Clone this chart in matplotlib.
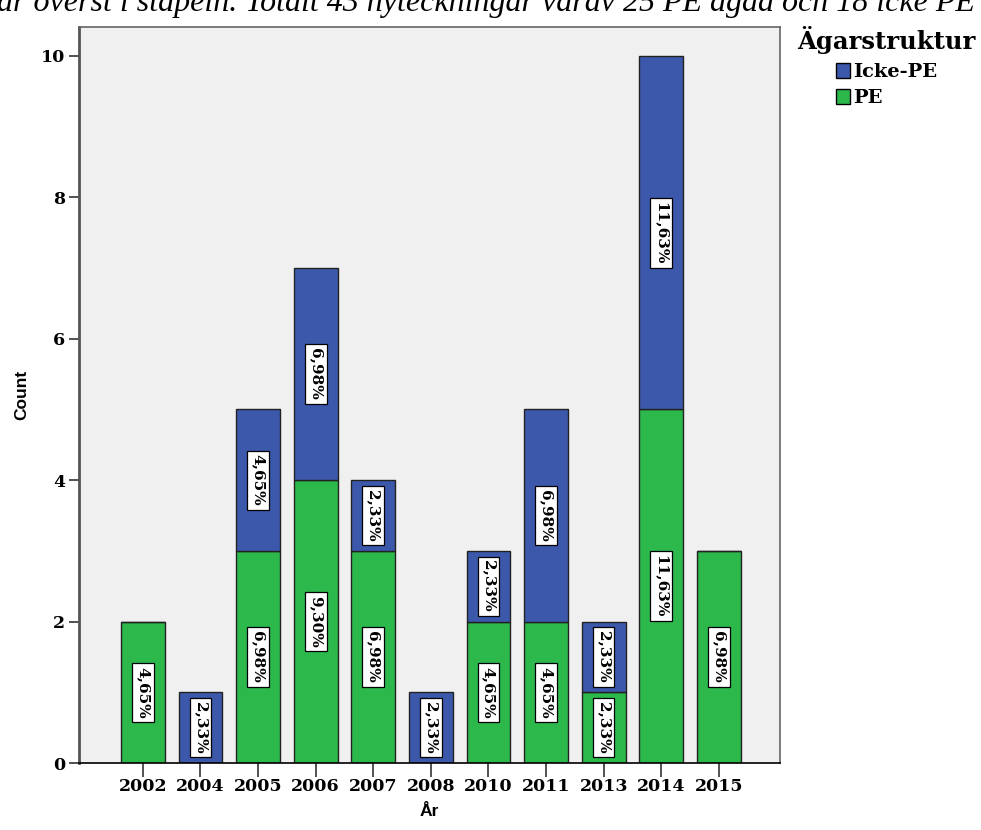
import numpy as np
import matplotlib.pyplot as plt

# data
years = ['2002', '2004', '2005', '2006', '2007', '2008', '2010', '2011', '2013', '2014', '2015']
pe = [2, 0, 3, 4, 3, 0, 2, 2, 1, 5, 3]
icke_pe = [0, 1, 2, 3, 1, 1, 1, 3, 1, 5, 0]
total = 43

green = '#2db84b'
blue = '#3c58ab'
serif = ['DejaVu Serif']
narrow = ['Liberation Sans Narrow', 'Liberation Sans']

fig = plt.figure(figsize=(9.81, 8.30), dpi=100)
ax = fig.add_axes([0.0805, 0.0807, 0.7145, 0.8868])
ax.set_facecolor('#f0f0f0')

x = np.arange(len(years))
w = 0.76
ax.bar(x, pe, w, color=green, edgecolor='#222222', linewidth=1.0, label='PE', zorder=2)
ax.bar(x, icke_pe, w, bottom=pe, color=blue, edgecolor='#222222', linewidth=1.0,
       label='Icke-PE', zorder=2)


def pct(n):
    return ('%.2f%%' % (100.0 * n / total)).replace('.', ',')


box = dict(boxstyle='square,pad=0.25', facecolor='white', edgecolor='black', linewidth=0.9)
for i in range(len(years)):
    if pe[i] > 0:
        ax.text(x[i], pe[i] / 2, pct(pe[i]), rotation=270, ha='center', va='center',
                fontsize=11, fontweight='bold', family=serif, bbox=box, zorder=3)
    if icke_pe[i] > 0:
        ax.text(x[i], pe[i] + icke_pe[i] / 2, pct(icke_pe[i]), rotation=270, ha='center',
                va='center', fontsize=11, fontweight='bold', family=serif, bbox=box, zorder=3)

ax.set_xlim(-1.11, 11.06)
ax.set_ylim(0, 10.41)
ax.set_xticks(x)
ax.set_xticklabels(years, family=serif, fontsize=12.5, fontweight='bold')
ax.set_yticks([0, 2, 4, 6, 8, 10])
ax.set_yticklabels(['0', '2', '4', '6', '8', '10'], family=serif, fontsize=12.5, fontweight='bold')
ax.tick_params(axis='x', length=10, width=1.2, color='#333333', pad=1)
ax.tick_params(axis='y', length=7, width=1.2, color='#333333', pad=3)

for s in ['top', 'right']:
    ax.spines[s].set_color('#666666')
    ax.spines[s].set_linewidth(1.2)
ax.spines['left'].set_color('#555555')
ax.spines['left'].set_linewidth(2.0)
ax.spines['bottom'].set_color('black')
ax.spines['bottom'].set_linewidth(1.2)

ax.set_xlabel('År', fontsize=12.5, fontweight='bold', family=narrow, labelpad=6)
ax.set_ylabel('Count', fontsize=12.5, fontweight='bold', family=narrow, labelpad=8)

# legend: title on its own, entries indented below it
fig.text(797 / 981, 1 - 49 / 830, 'Ägarstruktur', family=serif, fontweight='bold',
         fontsize=17.5, ha='left', va='baseline')
handles, labels = ax.get_legend_handles_labels()
leg = fig.legend(handles[::-1], labels[::-1], loc='upper left',
                 bbox_to_anchor=(836 / 981, 1 - 63 / 830), bbox_transform=fig.transFigure,
                 frameon=False, handlelength=0.7, handleheight=0.8, handletextpad=0.2,
                 labelspacing=0.4, borderpad=0, borderaxespad=0,
                 prop={'family': serif, 'weight': 'bold', 'size': 14})
for h in leg.legend_handles:
    h.set_edgecolor('black')

# caption cut off at the top of the picture
fig.text(975 / 981, 1 - 11 / 830,
         'är överst i stapeln. Totalt 43 nyteckningar varav 25 PE ägda och 18 icke PE',
         family=['Liberation Serif'], style='italic', fontsize=23, va='baseline', ha='right')

fig.savefig('out.png', dpi=100)
